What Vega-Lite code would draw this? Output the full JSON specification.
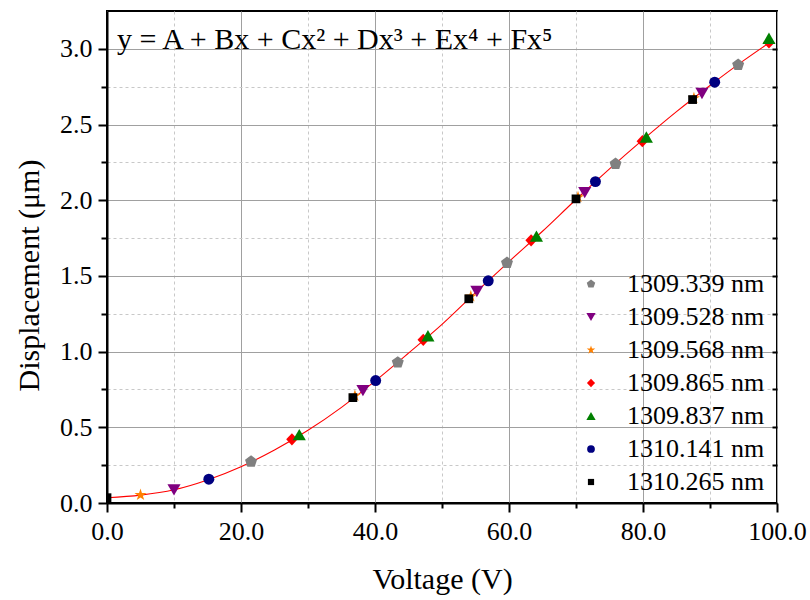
{
  "$schema": "https://vega.github.io/schema/vega-lite/v6.json",
  "width": 670,
  "height": 492,
  "autosize": {"type": "none"},
  "padding": {"left": 107, "top": 11, "right": 33, "bottom": 97},
  "background": "white",
  "config": {
    "font": "Liberation Serif",
    "view": {"stroke": "black", "strokeWidth": 2},
    "axis": {
      "labelFont": "Liberation Serif",
      "titleFont": "Liberation Serif",
      "labelFontSize": 26,
      "titleFontSize": 30,
      "titleFontWeight": "normal",
      "labelColor": "black",
      "titleColor": "black",
      "domainColor": "black",
      "domainWidth": 2,
      "tickColor": "black",
      "tickWidth": 2,
      "labelFlush": false
    },
    "legend": {
      "labelFont": "Liberation Serif",
      "labelFontSize": 26,
      "labelColor": "black"
    }
  },
  "datasets": {
    "points": [
      {"voltage": 21.5, "displacement": 0.273, "series": "1309.339 nm"},
      {"voltage": 43.4, "displacement": 0.928, "series": "1309.339 nm"},
      {"voltage": 59.7, "displacement": 1.586, "series": "1309.339 nm"},
      {"voltage": 75.9, "displacement": 2.24, "series": "1309.339 nm"},
      {"voltage": 94.2, "displacement": 2.894, "series": "1309.339 nm"},
      {"voltage": 10.0, "displacement": 0.087, "series": "1309.528 nm"},
      {"voltage": 38.2, "displacement": 0.742, "series": "1309.528 nm"},
      {"voltage": 55.2, "displacement": 1.397, "series": "1309.528 nm"},
      {"voltage": 71.3, "displacement": 2.05, "series": "1309.528 nm"},
      {"voltage": 88.8, "displacement": 2.705, "series": "1309.528 nm"},
      {"voltage": 5.0, "displacement": 0.053, "series": "1309.568 nm"},
      {"voltage": 37.0, "displacement": 0.708, "series": "1309.568 nm"},
      {"voltage": 54.3, "displacement": 1.365, "series": "1309.568 nm"},
      {"voltage": 70.3, "displacement": 2.02, "series": "1309.568 nm"},
      {"voltage": 87.6, "displacement": 2.674, "series": "1309.568 nm"},
      {"voltage": 27.6, "displacement": 0.421, "series": "1309.865 nm"},
      {"voltage": 47.2, "displacement": 1.078, "series": "1309.865 nm"},
      {"voltage": 63.3, "displacement": 1.735, "series": "1309.865 nm"},
      {"voltage": 79.9, "displacement": 2.39, "series": "1309.865 nm"},
      {"voltage": 98.8, "displacement": 3.042, "series": "1309.865 nm"},
      {"voltage": 28.7, "displacement": 0.452, "series": "1309.837 nm"},
      {"voltage": 47.9, "displacement": 1.105, "series": "1309.837 nm"},
      {"voltage": 64.1, "displacement": 1.763, "series": "1309.837 nm"},
      {"voltage": 80.5, "displacement": 2.418, "series": "1309.837 nm"},
      {"voltage": 98.8, "displacement": 3.07, "series": "1309.837 nm"},
      {"voltage": 15.2, "displacement": 0.157, "series": "1310.141 nm"},
      {"voltage": 40.1, "displacement": 0.809, "series": "1310.141 nm"},
      {"voltage": 56.9, "displacement": 1.468, "series": "1310.141 nm"},
      {"voltage": 72.9, "displacement": 2.123, "series": "1310.141 nm"},
      {"voltage": 90.7, "displacement": 2.78, "series": "1310.141 nm"},
      {"voltage": 0.0, "displacement": 0.035, "series": "1310.265 nm"},
      {"voltage": 36.7, "displacement": 0.696, "series": "1310.265 nm"},
      {"voltage": 54.0, "displacement": 1.349, "series": "1310.265 nm"},
      {"voltage": 70.0, "displacement": 2.009, "series": "1310.265 nm"},
      {"voltage": 87.4, "displacement": 2.665, "series": "1310.265 nm"}
    ],
    "fit": [
      {"voltage": 0, "displacement": 0.035},
      {"voltage": 5, "displacement": 0.052},
      {"voltage": 10, "displacement": 0.087},
      {"voltage": 15, "displacement": 0.152},
      {"voltage": 20, "displacement": 0.24},
      {"voltage": 25, "displacement": 0.35},
      {"voltage": 30, "displacement": 0.48},
      {"voltage": 35, "displacement": 0.632},
      {"voltage": 40, "displacement": 0.805},
      {"voltage": 45, "displacement": 0.99},
      {"voltage": 50, "displacement": 1.18},
      {"voltage": 55, "displacement": 1.39},
      {"voltage": 60, "displacement": 1.595},
      {"voltage": 65, "displacement": 1.795},
      {"voltage": 70, "displacement": 2.005},
      {"voltage": 75, "displacement": 2.207},
      {"voltage": 80, "displacement": 2.4},
      {"voltage": 85, "displacement": 2.585},
      {"voltage": 90, "displacement": 2.758},
      {"voltage": 95, "displacement": 2.922},
      {"voltage": 99, "displacement": 3.045}
    ]
  },
  "layer": [
    {
      "data": {"name": "fit"},
      "mark": {"type": "line", "color": "#ff0000", "strokeWidth": 1.1, "interpolate": "monotone"},
      "encoding": {
        "x": {
          "field": "voltage", "type": "quantitative",
          "scale": {"domain": [0, 100], "nice": false, "zero": false},
          "axis": {"orient": "bottom", "values": [10, 30, 50, 70, 90], "labels": false, "title": null,
                   "tickSize": 5, "grid": true, "gridDash": [3, 3], "gridColor": "#c8c8c8", "gridWidth": 1, "domain": false}
        },
        "y": {
          "field": "displacement", "type": "quantitative",
          "scale": {"domain": [0, 3.25], "nice": false, "zero": false},
          "axis": {"orient": "left", "values": [0.25, 0.75, 1.25, 1.75, 2.25, 2.75], "labels": false, "title": null,
                   "tickSize": 6, "grid": true, "gridDash": [3, 3], "gridColor": "#c8c8c8", "gridWidth": 1, "domain": false}
        }
      }
    },
    {
      "data": {"name": "points"},
      "mark": {"type": "point", "filled": true, "opacity": 1, "clip": true, "size": 120},
      "encoding": {
        "x": {
          "field": "voltage", "type": "quantitative",
          "scale": {"domain": [0, 100], "nice": false, "zero": false},
          "axis": {"orient": "bottom", "values": [0, 20, 40, 60, 80, 100], "format": ".1f", "title": "Voltage (V)",
                   "tickSize": 9, "labelPadding": 6, "titlePadding": 20, "grid": true, "gridColor": "#a0a0a0", "gridWidth": 1}
        },
        "y": {
          "field": "displacement", "type": "quantitative",
          "scale": {"domain": [0, 3.25], "nice": false, "zero": false},
          "axis": {"orient": "left", "values": [0, 0.5, 1, 1.5, 2, 2.5, 3], "format": ".1f", "title": "Displacement (μm)",
                   "tickSize": 9, "labelPadding": 6, "titlePadding": 15, "titleY": 264, "grid": true, "gridColor": "#a0a0a0", "gridWidth": 1}
        },
        "shape": {
          "field": "series", "type": "nominal",
          "scale": {
            "domain": ["1309.339 nm", "1309.528 nm", "1309.568 nm", "1309.865 nm", "1309.837 nm", "1310.141 nm", "1310.265 nm"],
            "range": [
              "M0,-1.15L1.094,-0.355L0.676,0.93L-0.676,0.93L-1.094,-0.355Z",
              "M-1.2,-1.04L1.2,-1.04L0,1.04Z",
              "M0,-1.16L0.26,-0.358L1.103,-0.358L0.421,0.137L0.682,0.938L0,0.443L-0.682,0.938L-0.421,0.137L-1.103,-0.358L-0.26,-0.358Z",
              "M0,-1.12L1.05,0L0,1.12L-1.05,0Z",
              "M0,-1.04L1.2,1.04L-1.2,1.04Z",
              "circle",
              "M-0.8,-0.8L0.8,-0.8L0.8,0.8L-0.8,0.8Z"
            ]
          },
          "legend": {"title": null, "orient": "none", "legendX": 471, "legendY": 260, "symbolSize": 60, "labelOffset": 23, "rowPadding": 7}
        },
        "color": {
          "field": "series", "type": "nominal",
          "scale": {
            "domain": ["1309.339 nm", "1309.528 nm", "1309.568 nm", "1309.865 nm", "1309.837 nm", "1310.141 nm", "1310.265 nm"],
            "range": ["#808080", "#800080", "#ff8000", "#ff0000", "#008000", "#000080", "#000000"]
          },
          "legend": {"title": null, "orient": "none", "legendX": 471, "legendY": 260, "symbolSize": 60, "labelOffset": 23, "rowPadding": 7}
        }
      }
    },
    {
      "data": {"values": [{}]},
      "mark": {"type": "text", "align": "left", "baseline": "alphabetic", "fontSize": 30, "font": "Liberation Serif", "color": "black"},
      "encoding": {
        "x": {"datum": 1.5, "type": "quantitative", "scale": {"domain": [0, 100], "nice": false, "zero": false}, "axis": null},
        "y": {
          "datum": 3.0, "type": "quantitative",
          "scale": {"domain": [0, 3.25], "nice": false, "zero": false},
          "axis": {"orient": "right", "values": [0.25, 0.5, 0.75, 1, 1.25, 1.5, 1.75, 2, 2.25, 2.5, 2.75, 3], "labels": false,
                   "title": null, "tickSize": -5, "domain": false, "grid": false}
        },
        "text": {"value": "y = A + Bx + Cx² + Dx³ + Ex⁴ + Fx⁵"}
      }
    }
  ],
  "resolve": {"axis": {"x": "independent", "y": "independent"}}
}
